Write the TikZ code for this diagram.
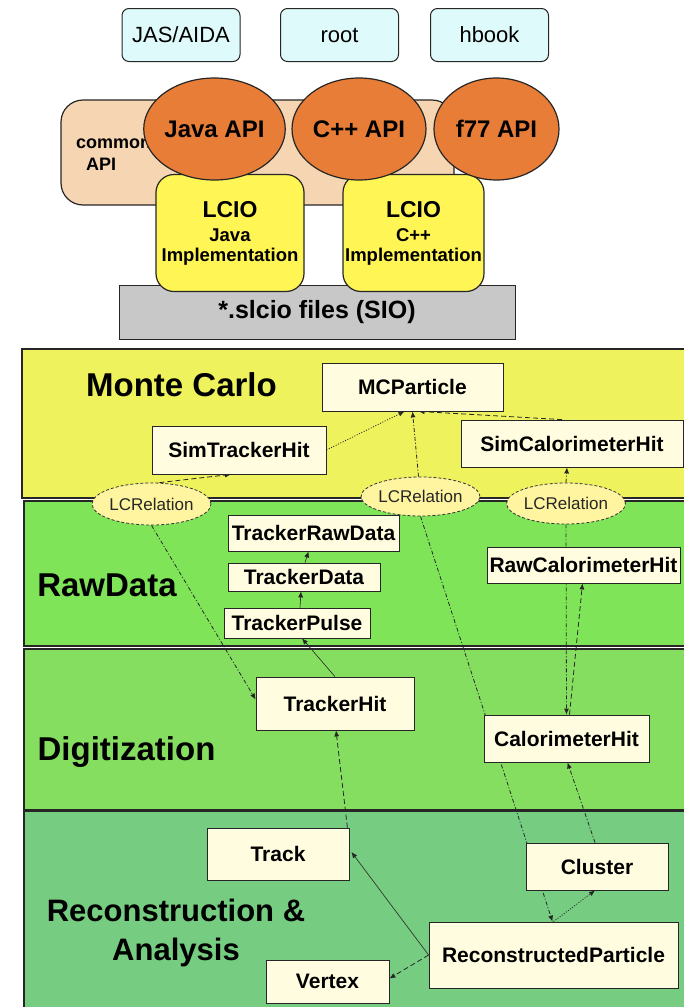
\documentclass[tikz,border=0pt]{standalone}
\usepackage{fontspec}
\setmainfont{Liberation Sans}
\usetikzlibrary{arrows.meta,shapes.geometric,shadows,calc}
\pgfdeclarelayer{bandlayer}
\pgfdeclarelayer{connlayer}
\pgfsetlayers{bandlayer,connlayer,main}
\definecolor{cyanbox}{RGB}{222,250,250}
\definecolor{peach}{RGB}{246,214,178}
\definecolor{orangec}{RGB}{232,125,55}
\definecolor{yellowbox}{RGB}{255,245,85}
\definecolor{grayb}{RGB}{200,200,200}
\definecolor{mcband}{RGB}{238,242,92}
\definecolor{rawband}{RGB}{128,228,88}
\definecolor{digiband}{RGB}{134,222,96}
\definecolor{recoband}{RGB}{118,204,128}
\definecolor{nodecream}{RGB}{255,252,224}
\definecolor{relfill}{RGB}{255,244,160}
\begin{document}
\begin{tikzpicture}[x=1pt,y=-1pt,
  tool/.style={draw=black!85, line width=1pt, rounded corners=7pt, fill=cyanbox,
    minimum width=118pt, minimum height=53pt, inner sep=0pt, font=\fontsize{22}{24}\selectfont},
  api/.style={ellipse, draw=black!85, line width=1.2pt, fill=orangec, minimum height=102pt,
    inner sep=0pt, font=\bfseries\fontsize{24}{26}\selectfont},
  impl/.style={draw=black!85, line width=1.2pt, fill=yellowbox, rounded corners=18pt,
    minimum height=117pt, inner sep=0pt, align=center, font=\bfseries\fontsize{18.5}{20}\selectfont},
  obj/.style={draw=black!85, line width=0.8pt, fill=nodecream, inner sep=0pt,
    font=\bfseries\fontsize{21}{23}\selectfont,
    drop shadow={shadow xshift=1.2pt, shadow yshift=-1.2pt, opacity=0.8, fill=black}},
  rel/.style={ellipse, draw=black!80, dash pattern=on 3pt off 2pt, line width=0.8pt, fill=relfill,
    inner sep=0pt, font=\fontsize{17}{18}\selectfont, text=black!85},
  band/.style={draw=black!85, line width=1.5pt},
  bandlabel/.style={font=\bfseries\fontsize{33}{39}\selectfont, inner sep=0pt, align=center},
  tip/.style={-{Latex[length=6pt,width=5pt]}},
  conn/.style={draw=black!85, line width=0.8pt},
  dotl/.style={conn, dash pattern=on 1pt off 1.6pt},
  dashl/.style={conn, dash pattern=on 5pt off 3pt},
  ddl/.style={conn, dash pattern=on 4pt off 2pt on 1pt off 2pt},
  soll/.style={conn, line width=0.6pt}
]
\useasboundingbox (0,0) rectangle (684,1007);
\begin{pgfonlayer}{bandlayer}
\fill[white] (0,0) rectangle (684,1007);
\clip (0,0) rectangle (684,1007);
\draw[band, fill=mcband] (22,349) rectangle (700,498);
\draw[band, fill=rawband] (24,501) rectangle (700,646);
\draw[band, fill=digiband] (24,649) rectangle (700,810);
\draw[band, fill=recoband, line width=2.5pt] (24,811) rectangle (700,1015);
\end{pgfonlayer}

% ---------- top part ----------
\node[tool] (jas) at (181,35) {JAS/AIDA};
\node[tool] (root) at (339.5,35) {root};
\node[tool] (hbook) at (489.5,35) {hbook};

\node[draw=black!85, line width=1.2pt, fill=peach, rounded corners=22pt,
  minimum width=393pt, minimum height=105pt] (common) at (257.5,152.5) {};
\node[anchor=base west, inner sep=0pt, font=\bfseries\fontsize{18}{20}\selectfont] (commonA) at (76,148) {common};
\node[anchor=base west, inner sep=0pt, font=\bfseries\fontsize{18}{20}\selectfont] (commonB) at (86,170) {API};

\node[draw=black!85, line width=1pt, fill=grayb, minimum width=396pt, minimum height=54pt,
  inner sep=0pt, font=\bfseries\fontsize{25}{27}\selectfont] (slcio) at (317,312) {*.slcio files (SIO)};

\node[impl, minimum width=148pt] (lcioj) at (230,233)
  {{\fontsize{23}{24}\selectfont LCIO}\\[4pt]Java\\Implementation};
\node[impl, minimum width=141pt] (lcioc) at (413.5,233)
  {{\fontsize{23}{24}\selectfont LCIO}\\[4pt]C++\\Implementation};

\node[api, minimum width=129pt] (javaapi) at (214.5,129) {Java API};
\node[api, minimum width=134pt] (cppapi) at (359,129) {C++ API};
\node[api, minimum width=125pt] (f77api) at (496.5,129) {f77 API};

% ---------- band labels ----------
\node[bandlabel] (lmc) at (181.5,385) {Monte Carlo};
\node[bandlabel] (lraw) at (107,585) {RawData};
\node[bandlabel] (ldigi) at (126.5,752) {Digitization};
\node[bandlabel, font=\bfseries\fontsize{31}{39}\selectfont] (lreco) at (176,933) {Reconstruction \&\\Analysis};

% ---------- objects ----------
\node[obj, minimum width=181pt, minimum height=48pt] (mcp) at (412.5,387) {MCParticle};
\node[obj, minimum width=174pt, minimum height=48pt] (simtrk) at (239,450) {SimTrackerHit};
\node[obj, minimum width=222pt, minimum height=47pt] (simcal) at (572,443.5) {SimCalorimeterHit};

\node[obj, minimum width=171pt, minimum height=36pt] (trd) at (313.5,533) {TrackerRawData};
\node[obj, minimum width=152pt, minimum height=28pt] (td) at (304,577) {TrackerData};
\node[obj, minimum width=146pt, minimum height=30pt] (tp) at (297,623) {TrackerPulse};
\node[obj, minimum width=193pt, minimum height=36pt] (rch) at (583.5,565) {RawCalorimeterHit};

\node[obj, minimum width=158pt, minimum height=53pt] (th) at (335,703.5) {TrackerHit};
\node[obj, minimum width=165pt, minimum height=47pt] (ch) at (566.5,738.5) {CalorimeterHit};

\node[obj, minimum width=142pt, minimum height=52pt] (track) at (278,854) {Track};
\node[obj, minimum width=142pt, minimum height=47pt] (cluster) at (597,866.5) {Cluster};
\node[obj, minimum width=249pt, minimum height=66pt] (rp) at (553.5,955) {ReconstructedParticle};
\node[obj, minimum width=123pt, minimum height=43pt] (vertex) at (327.5,981.5) {Vertex};

\node[rel, minimum width=111pt, minimum height=42pt] (rel1) at (151.5,504) {LCRelation};
\node[rel, minimum width=113pt, minimum height=39pt] (rel2) at (420.5,496.5) {LCRelation};
\node[rel, minimum width=112pt, minimum height=41pt] (rel3) at (566,503.5) {LCRelation};

% ---------- connectors (behind the boxes) ----------
\begin{pgfonlayer}{connlayer}
\draw[dotl, tip] (simtrk.east) -- ($(mcp.south)+(-8,0)$);
\draw[dashl, tip] ($(simcal.north)+(-10,0)$) -- ($(mcp.south)+(6,0)$);
\draw[ddl, tip] ($(rel2.north)+(-2,0)$) -- (mcp.south);
\draw[dashl, tip] ($(rel1.north)+(8,0)$) -- ($(simtrk.south)+(-8,0)$);
\draw[ddl, tip] (rel3.north) -- ($(simcal.south)+(-5,0)$);
\draw[ddl, tip] (rel1.south) -- ($(th.west)+(0,-4)$);
\draw[ddl, tip] (rel2.south) -- ($(rp.north)+(-1,0)$);
\draw[ddl, tip] (rel3.south) -- (ch.north);
\draw[dashl, tip] ($(ch.north)+(3,0)$) -- ($(rch.south)+(-1,0)$);
\draw[soll, tip] ($(td.north)+(1,0)$) -- ($(trd.south)+(-5,0)$);
\draw[soll, tip] ($(tp.north)+(3,0)$) -- ($(td.south)+(-3,0)$);
\draw[soll, tip] (th.north) -- ($(tp.south)+(5,0)$);
\draw[dashl, tip] ($(track.north east)+(-2,0)$) -- ($(th.south)+(1,0)$);
\draw[ddl, tip] ($(cluster.north)+(-2,0)$) -- ($(ch.south)+(1,0)$);
\draw[soll, tip] (rp.west) -- ($(track.east)+(2,-2)$);
\draw[dashl, tip] (rp.west) -- ($(vertex.east)+(0,-3)$);
\draw[dotl, tip] (rp.north) -- ($(cluster.south)+(-2,0)$);
\end{pgfonlayer}
\end{tikzpicture}
\end{document}
